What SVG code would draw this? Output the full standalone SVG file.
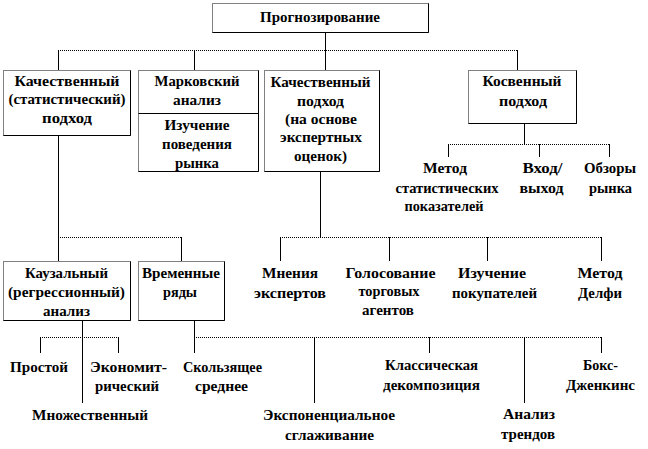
<svg xmlns="http://www.w3.org/2000/svg" width="648" height="449" viewBox="0 0 648 449" font-family="'Liberation Serif', 'DejaVu Serif', serif" font-weight="bold" font-size="15">
<style>
text{text-anchor:middle;fill:#000}
.box{fill:#fff;stroke:#000;stroke-width:1;stroke-dasharray:1 1}
.edge{fill:none;stroke:#000;stroke-width:1}
.v{fill:none;stroke:#000;stroke-width:1}
.h{fill:none;stroke:#000;stroke-width:1;stroke-dasharray:1 1}
</style>
<rect width="648" height="449" fill="#fff"/>
<g id="connectors">
<path class="v" d="M325.5 32V70"/>
<path class="h" d="M58 50.5H517"/>
<path class="v" d="M58.5 50V70M194.5 50V70M517.5 50V70"/>
<path class="v" d="M524.5 123V144"/>
<path class="h" d="M448 144.5H609"/>
<path class="v" d="M448.5 144V157M539.5 144V157M609.5 144V157"/>
<path class="v" d="M58.5 135V261"/>
<path class="h" d="M58 237.5H181"/>
<path class="v" d="M181.5 237V261"/>
<path class="v" d="M320.5 172V237"/>
<path class="h" d="M280 237.5H601"/>
<path class="v" d="M280.5 237V261M389.5 237V261M487.5 237V261M601.5 237V261"/>
<path class="v" d="M82.5 320V403"/>
<path class="h" d="M40 337.5H118"/>
<path class="v" d="M40.5 337V353M118.5 337V353"/>
<path class="v" d="M194.5 320V353"/>
<path class="h" d="M194 337.5H601"/>
<path class="v" d="M314.5 337V403M429.5 337V353M524.5 337V403M601.5 337V353"/>
</g>
<g id="n-root">
<rect class="box" x="212.5" y="3.5" width="216" height="29"/>
<path class="edge" d="M428.5 3.5V32.5H212.5"/>
<text x="320" y="22" textLength="120" lengthAdjust="spacingAndGlyphs">Прогнозирование</text>
</g>
<g id="n-qual-stat">
<rect class="box" x="3.5" y="70.5" width="127" height="65"/>
<path class="edge" d="M130.5 70.5V135.5H3.5"/>
<text x="67" y="86" textLength="105" lengthAdjust="spacingAndGlyphs">Качественный</text>
<text x="67" y="104" textLength="117" lengthAdjust="spacingAndGlyphs">(статистический)</text>
<text x="67" y="123" textLength="50" lengthAdjust="spacingAndGlyphs">подход</text>
</g>
<g id="n-markov">
<rect class="box" x="138.5" y="70.5" width="120" height="101"/>
<path class="edge" d="M258.5 70.5V171.5H138.5M138.5 113.5H258.5"/>
<text x="197" y="86" textLength="85" lengthAdjust="spacingAndGlyphs">Марковский</text>
<text x="197" y="105" textLength="48" lengthAdjust="spacingAndGlyphs">анализ</text>
<text x="197" y="130" textLength="65" lengthAdjust="spacingAndGlyphs">Изучение</text>
<text x="197" y="149" textLength="70" lengthAdjust="spacingAndGlyphs">поведения</text>
<text x="197" y="168" textLength="44" lengthAdjust="spacingAndGlyphs">рынка</text>
</g>
<g id="n-qual-expert">
<rect class="box" x="264.5" y="70.5" width="115" height="101"/>
<path class="edge" d="M379.5 70.5V171.5H264.5"/>
<text x="320.5" y="87" textLength="100" lengthAdjust="spacingAndGlyphs">Качественный</text>
<text x="320.5" y="106" textLength="47" lengthAdjust="spacingAndGlyphs">подход</text>
<text x="321" y="124" textLength="72" lengthAdjust="spacingAndGlyphs">(на основе</text>
<text x="321" y="142" textLength="82" lengthAdjust="spacingAndGlyphs">экспертных</text>
<text x="320.5" y="161" textLength="53" lengthAdjust="spacingAndGlyphs">оценок)</text>
</g>
<g id="n-indirect">
<rect class="box" x="468.5" y="70.5" width="108" height="53"/>
<path class="edge" d="M576.5 70.5V123.5H468.5"/>
<text x="522" y="86" textLength="79" lengthAdjust="spacingAndGlyphs">Косвенный</text>
<text x="523" y="106" textLength="48" lengthAdjust="spacingAndGlyphs">подход</text>
</g>
<g id="n-stat-ind">
<text x="445" y="173" textLength="44" lengthAdjust="spacingAndGlyphs">Метод</text>
<text x="447" y="193" textLength="103" lengthAdjust="spacingAndGlyphs">статистических</text>
<text x="444" y="211" textLength="79" lengthAdjust="spacingAndGlyphs">показателей</text>
</g>
<g id="n-io">
<text x="542.5" y="173" textLength="40" lengthAdjust="spacingAndGlyphs">Вход/</text>
<text x="541.5" y="193" textLength="44" lengthAdjust="spacingAndGlyphs">выход</text>
</g>
<g id="n-market-reviews">
<text x="610" y="173" textLength="52" lengthAdjust="spacingAndGlyphs">Обзоры</text>
<text x="610.5" y="193" textLength="43" lengthAdjust="spacingAndGlyphs">рынка</text>
</g>
<g id="n-causal">
<rect class="box" x="3.5" y="261.5" width="127" height="59"/>
<path class="edge" d="M130.5 261.5V320.5H3.5"/>
<text x="66.5" y="278" textLength="83" lengthAdjust="spacingAndGlyphs">Каузальный</text>
<text x="66.5" y="297" textLength="117" lengthAdjust="spacingAndGlyphs">(регрессионный)</text>
<text x="66.5" y="316" textLength="47" lengthAdjust="spacingAndGlyphs">анализ</text>
</g>
<g id="n-timeseries">
<rect class="box" x="138.5" y="261.5" width="86" height="59"/>
<path class="edge" d="M224.5 261.5V320.5H138.5"/>
<text x="181" y="278" textLength="78" lengthAdjust="spacingAndGlyphs">Временные</text>
<text x="180" y="297" textLength="34" lengthAdjust="spacingAndGlyphs">ряды</text>
</g>
<g id="n-experts">
<text x="290" y="278" textLength="56" lengthAdjust="spacingAndGlyphs">Мнения</text>
<text x="290" y="298" textLength="72" lengthAdjust="spacingAndGlyphs">экспертов</text>
</g>
<g id="n-sales">
<text x="390.5" y="278" textLength="90" lengthAdjust="spacingAndGlyphs">Голосование</text>
<text x="389" y="296" textLength="61" lengthAdjust="spacingAndGlyphs">торговых</text>
<text x="388" y="315" textLength="52" lengthAdjust="spacingAndGlyphs">агентов</text>
</g>
<g id="n-buyers">
<text x="492" y="278" textLength="68" lengthAdjust="spacingAndGlyphs">Изучение</text>
<text x="494.5" y="298" textLength="85" lengthAdjust="spacingAndGlyphs">покупателей</text>
</g>
<g id="n-delphi">
<text x="600" y="278" textLength="45" lengthAdjust="spacingAndGlyphs">Метод</text>
<text x="600" y="298" textLength="44" lengthAdjust="spacingAndGlyphs">Делфи</text>
</g>
<g id="n-simple">
<text x="39" y="372" textLength="58" lengthAdjust="spacingAndGlyphs">Простой</text>
</g>
<g id="n-econ">
<text x="128.5" y="372" textLength="77" lengthAdjust="spacingAndGlyphs">Экономит-</text>
<text x="127" y="391" textLength="64" lengthAdjust="spacingAndGlyphs">рический</text>
</g>
<g id="n-multiple">
<text x="90" y="420" textLength="116" lengthAdjust="spacingAndGlyphs">Множественный</text>
</g>
<g id="n-moving">
<text x="222.5" y="372" textLength="79" lengthAdjust="spacingAndGlyphs">Скользящее</text>
<text x="221.5" y="391" textLength="53" lengthAdjust="spacingAndGlyphs">среднее</text>
</g>
<g id="n-exp">
<text x="329" y="420" textLength="132" lengthAdjust="spacingAndGlyphs">Экспоненциальное</text>
<text x="329.5" y="440" textLength="89" lengthAdjust="spacingAndGlyphs">сглаживание</text>
</g>
<g id="n-classic">
<text x="431.5" y="370" textLength="93" lengthAdjust="spacingAndGlyphs">Классическая</text>
<text x="431.5" y="390" textLength="97" lengthAdjust="spacingAndGlyphs">декомпозиция</text>
</g>
<g id="n-trend">
<text x="529" y="419" textLength="52" lengthAdjust="spacingAndGlyphs">Анализ</text>
<text x="528" y="439" textLength="54" lengthAdjust="spacingAndGlyphs">трендов</text>
</g>
<g id="n-box">
<text x="600.5" y="370" textLength="35" lengthAdjust="spacingAndGlyphs">Бокс-</text>
<text x="600.5" y="390" textLength="69" lengthAdjust="spacingAndGlyphs">Дженкинс</text>
</g>
</svg>
